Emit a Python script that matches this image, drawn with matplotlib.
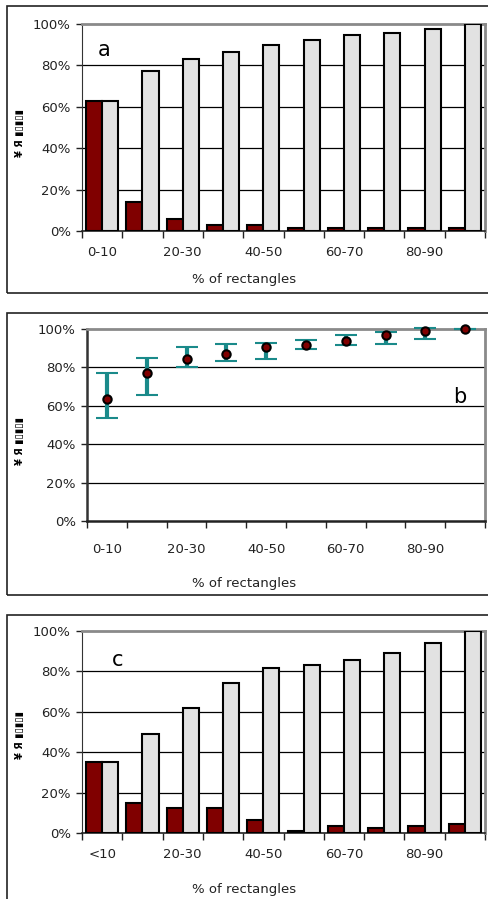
import numpy as np
import matplotlib
matplotlib.use('Agg')
import matplotlib.pyplot as plt
from matplotlib.patches import Rectangle

plt.rcParams['font.family'] = ['DejaVu Sans']

# category labels (only every other one is printed)
labels_a = ['0-10', '', '20-30', '', '40-50', '', '60-70', '', '80-90', '']
labels_c = ['<10', '', '20-30', '', '40-50', '', '60-70', '', '80-90', '']

# panel a: share per bin and cumulative share
share_a = [63, 14, 6, 3, 3, 1.5, 1.5, 1.5, 1.5, 1.5]
cum_a = [63, 77.5, 83, 86.3, 89.8, 92.1, 94.5, 95.6, 97.6, 100]

# panel b: mean with lower / upper bounds
mean_b = [63.6, 76.9, 84.3, 87.0, 90.4, 91.8, 93.9, 96.7, 99.1, 100]
low_b = [53.7, 65.7, 80.3, 83.1, 84.4, 89.4, 91.7, 92.3, 94.6, 100]
high_b = [77.2, 85.0, 90.6, 92.0, 92.9, 94.3, 97.0, 98.4, 100.5, 100]

# panel c: share per bin and cumulative share
share_c = [35, 15, 12.2, 12.2, 6.2, 1.0, 3.3, 2.3, 3.3, 4.6]
cum_c = [35, 48.9, 61.7, 74.2, 81.7, 83.1, 85.5, 89.3, 94.3, 100]

W, H = 488, 899
DARKRED = '#800000'
LIGHT = '#e2e2e2'
TEAL = '#1a8a8a'
FS = 9.5

fig = plt.figure(figsize=(W / 100, H / 100), dpi=100)


def px_axes(left, top, right, bottom):
    return fig.add_axes([left / W, 1 - bottom / H, (right - left) / W, (bottom - top) / H])


def frame(top, bottom):
    fig.add_artist(Rectangle((7 / W, 1 - bottom / H), 1.2, (bottom - top) / H,
                             transform=fig.transFigure, fill=False,
                             edgecolor='#222222', linewidth=1.2, clip_on=False))


def style_axes(ax, labels, tick_y):
    n = len(labels)
    ax.set_xlim(-0.5, n - 0.5)
    ax.set_ylim(0, 100)
    ax.set_yticks(np.arange(0, 101, 20))
    ax.set_yticklabels(['{}%'.format(v) for v in range(0, 101, 20)], fontsize=FS, color='#222222')
    ax.set_xticks(np.arange(n + 1) - 0.5)
    ax.set_xticklabels([])
    ax.set_xticks(np.arange(n), minor=True)
    ax.set_xticklabels(labels, minor=True, fontsize=FS, color='#222222')
    ax.tick_params(axis='x', which='major', direction='out', length=5, width=1, color='#222222')
    ax.tick_params(axis='x', which='minor', length=0, pad=tick_y)
    ax.tick_params(axis='y', direction='out', length=4, width=1, color='#222222', pad=4)
    for y in range(20, 100, 20):
        ax.axhline(y, color='black', linewidth=0.9, zorder=0)
    ax.spines['top'].set_color('#8a8a8a')
    ax.spines['top'].set_linewidth(2)
    ax.spines['right'].set_color('#8a8a8a')
    ax.spines['right'].set_linewidth(2)
    ax.spines['left'].set_color('#333333')
    ax.spines['bottom'].set_color('#222222')
    ax.spines['bottom'].set_linewidth(1.2)


def y_label(y_center):
    fig.text(20 / W, 1 - y_center / H, '¥ Я ▮▯▮▯▮', rotation=90, fontsize=7,
             fontweight='bold', ha='center', va='center')


def bar_panel(ax, share, cum, labels, letter, letter_xy):
    x = np.arange(len(share))
    ax.bar(x - 0.2, share, width=0.4, color=DARKRED, edgecolor='black', linewidth=1.5, zorder=3)
    ax.bar(x + 0.2, cum, width=0.4, color=LIGHT, edgecolor='black', linewidth=1.5, zorder=3)
    style_axes(ax, labels, 11)
    ax.text(letter_xy[0], letter_xy[1], letter, fontsize=15, ha='center', va='center')


# panel a
frame(6, 293)
ax_a = px_axes(82, 24, 485, 231)
bar_panel(ax_a, share_a, cum_a, labels_a, 'a', (0.05, 87.5))
y_label(133)
fig.text(0.5, 1 - 280 / H, '% of rectangles', fontsize=FS, ha='center', va='center', color='#222222')

# panel b
frame(313, 595)
ax_b = px_axes(87, 329, 485, 521)
xb = np.arange(len(mean_b))
err = [np.array(mean_b) - np.array(low_b), np.array(high_b) - np.array(mean_b)]
ax_b.errorbar(xb, mean_b, yerr=err, fmt='o', color=TEAL, ecolor=TEAL, elinewidth=3,
              capsize=8, capthick=4.5, markersize=6, markerfacecolor=DARKRED,
              markeredgecolor='black', markeredgewidth=1.5, zorder=4, clip_on=False)
style_axes(ax_b, labels_a, 16)
ax_b.spines['bottom'].set_linewidth(1.8)
ax_b.spines['left'].set_linewidth(1.8)
ax_b.text(8.87, 64.5, 'b', fontsize=15, ha='center', va='center')
y_label(441)
fig.text(0.5, 1 - 583 / H, '% of rectangles', fontsize=FS, ha='center', va='center', color='#222222')

# panel c
frame(615, 960)
ax_c = px_axes(82, 631, 485, 833)
bar_panel(ax_c, share_c, cum_c, labels_c, 'c', (0.39, 85.5))
y_label(735)
fig.text(0.5, 1 - 889 / H, '% of rectangles', fontsize=FS, ha='center', va='center', color='#222222')

fig.savefig('out.png', dpi=100)
